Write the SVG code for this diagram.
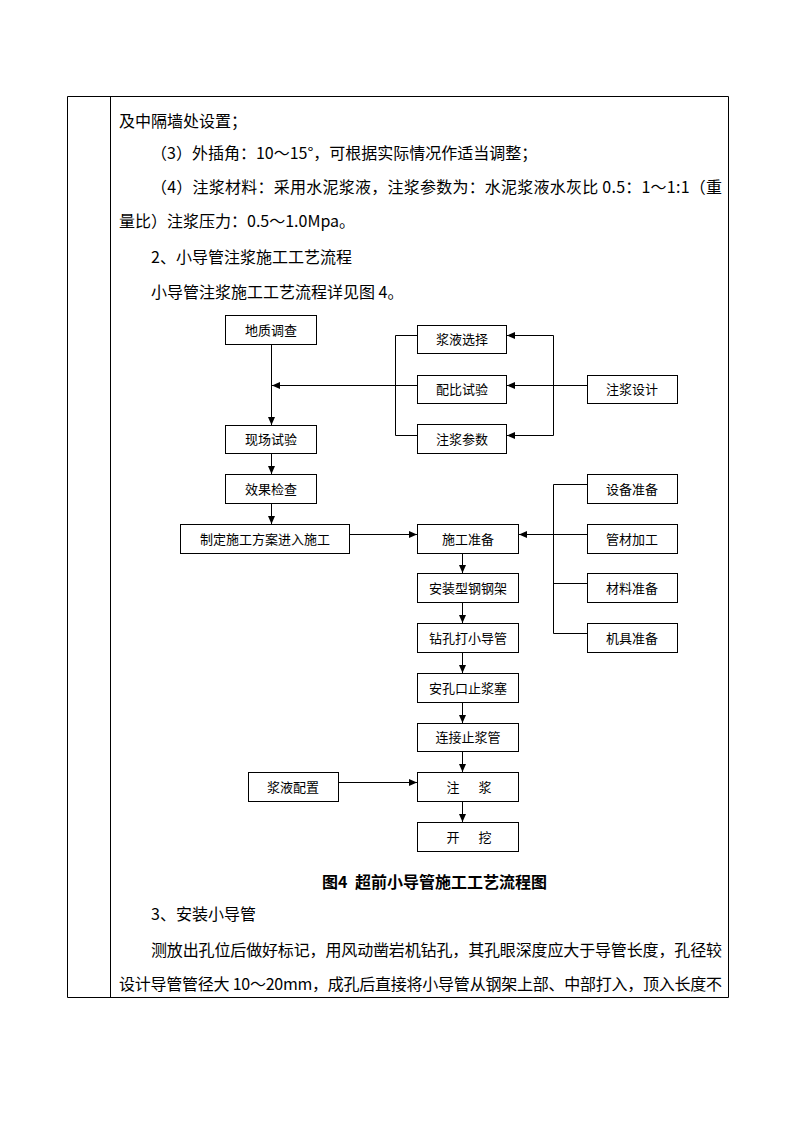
<svg xmlns="http://www.w3.org/2000/svg" width="794" height="1123" viewBox="0 0 794 1123">
<style>
.t{font-family:"Noto Sans CJK SC","Noto Sans",sans-serif;font-size:16px;fill:#000}
.b{font-family:"Noto Sans CJK SC","Noto Sans",sans-serif;font-size:13px;fill:#000;text-anchor:middle}
.cap{font-family:"Noto Sans CJK SC",sans-serif;font-size:16px;font-weight:bold;fill:#000;text-anchor:middle}
rect{fill:#fff;stroke:#000;stroke-width:1}
.ln{fill:none;stroke:#000;stroke-width:1}
.ar{fill:none;stroke:#000;stroke-width:1;marker-end:url(#ah)}
</style>
<defs>
<marker id="ah" viewBox="0 0 8 7" refX="8" refY="3.5" markerWidth="8" markerHeight="7" markerUnits="userSpaceOnUse" orient="auto">
<path d="M0,0 L8,3.5 L0,7 z" fill="#000"/>
</marker>
</defs>
<rect x="0" y="0" width="794" height="1123" style="fill:#fff;stroke:none"/>
<g id="table">
<path class="ln" d="M67.5,96.5 H728.5 V997.5 H67.5 Z M110.5,96.5 V997.5"/>
</g>
<g id="body-text">
<text class="t" x="119" y="127">及中隔墙处设置；</text>
<text class="t" x="151" y="159">（3）外插角：10～15°，可根据实际情况作适当调整；</text>
<text class="t" x="151" y="193" textLength="571" lengthAdjust="spacing">（4）注浆材料：采用水泥浆液，注浆参数为：水泥浆液水灰比 0.5：1～1:1（重</text>
<text class="t" x="119" y="227">量比）注浆压力：0.5～1.0Mpa。</text>
<text class="t" x="151" y="263">2、小导管注浆施工工艺流程</text>
<text class="t" x="151" y="298">小导管注浆施工工艺流程详见图 4。</text>
<text class="t" x="151" y="920">3、安装小导管</text>
<text class="t" x="151" y="956" textLength="571" lengthAdjust="spacing">测放出孔位后做好标记，用风动凿岩机钻孔，其孔眼深度应大于导管长度，孔径较</text>
<text class="t" x="119" y="990" textLength="603" lengthAdjust="spacing">设计导管管径大 10～20mm，成孔后直接将小导管从钢架上部、中部打入，顶入长度不</text>
</g>
<g id="connectors">
<path class="ar" d="M271.5,345 V425"/>
<path class="ar" d="M417,385.5 H272"/>
<path class="ln" d="M395.5,335.5 V435.5 M395.5,335.5 H417 M395.5,435.5 H417"/>
<path class="ln" d="M553.5,335.5 V435.5 M587,385.5 H553.5"/>
<path class="ar" d="M553.5,335.5 H507"/>
<path class="ar" d="M553.5,385.5 H507"/>
<path class="ar" d="M553.5,435.5 H507"/>
<path class="ar" d="M271.5,454 V474"/>
<path class="ar" d="M271.5,504 V524"/>
<path class="ar" d="M350,534.5 H417"/>
<path class="ln" d="M553.5,484.5 V633.5 M553.5,484.5 H587 M553.5,583.5 H587 M553.5,633.5 H587"/>
<path class="ar" d="M587,534.5 H519"/>
<path class="ar" d="M462.5,554 V573"/>
<path class="ar" d="M462.5,603 V623"/>
<path class="ar" d="M462.5,653 V673"/>
<path class="ar" d="M462.5,703 V723"/>
<path class="ar" d="M462.5,752 V772"/>
<path class="ar" d="M462.5,802 V822"/>
<path class="ar" d="M339,782.5 H417"/>
</g>
<g id="n1"><rect x="225.5" y="315.5" width="91" height="29"/><text class="b" x="271" y="335">地质调查</text></g>
<g id="n2"><rect x="225.5" y="425.5" width="91" height="28"/><text class="b" x="271" y="444">现场试验</text></g>
<g id="n3"><rect x="225.5" y="474.5" width="91" height="29"/><text class="b" x="271" y="494">效果检查</text></g>
<g id="n4"><rect x="180.5" y="524.5" width="169" height="29"/><text class="b" x="265" y="544">制定施工方案进入施工</text></g>
<g id="n5"><rect x="417.5" y="325.5" width="89" height="28"/><text class="b" x="462" y="344">浆液选择</text></g>
<g id="n6"><rect x="417.5" y="375.5" width="89" height="28"/><text class="b" x="462" y="394">配比试验</text></g>
<g id="n7"><rect x="417.5" y="424.5" width="89" height="29"/><text class="b" x="462" y="444">注浆参数</text></g>
<g id="n8"><rect x="587.5" y="375.5" width="90" height="28"/><text class="b" x="632" y="394">注浆设计</text></g>
<g id="n9"><rect x="417.5" y="524.5" width="101" height="29"/><text class="b" x="468" y="544">施工准备</text></g>
<g id="n10"><rect x="587.5" y="474.5" width="90" height="29"/><text class="b" x="632" y="494">设备准备</text></g>
<g id="n11"><rect x="587.5" y="524.5" width="90" height="29"/><text class="b" x="632" y="544">管材加工</text></g>
<g id="n12"><rect x="587.5" y="573.5" width="90" height="29"/><text class="b" x="632" y="593">材料准备</text></g>
<g id="n13"><rect x="587.5" y="623.5" width="90" height="29"/><text class="b" x="632" y="643">机具准备</text></g>
<g id="n14"><rect x="417.5" y="573.5" width="101" height="29"/><text class="b" x="468" y="593">安装型钢钢架</text></g>
<g id="n15"><rect x="417.5" y="623.5" width="101" height="29"/><text class="b" x="468" y="643">钻孔打小导管</text></g>
<g id="n16"><rect x="417.5" y="673.5" width="101" height="29"/><text class="b" x="468" y="693">安孔口止浆塞</text></g>
<g id="n17"><rect x="417.5" y="723.5" width="101" height="28"/><text class="b" x="468" y="742">连接止浆管</text></g>
<g id="n18"><rect x="417.5" y="772.5" width="101" height="29"/><text class="b" y="792"><tspan x="453">注</tspan><tspan x="485">浆</tspan></text></g>
<g id="n19"><rect x="417.5" y="822.5" width="101" height="29"/><text class="b" y="842"><tspan x="453">开</tspan><tspan x="485">挖</tspan></text></g>
<g id="n20"><rect x="248.5" y="772.5" width="90" height="29"/><text class="b" x="293" y="792">浆液配置</text></g>
<g id="caption"><text class="cap" y="888"><tspan x="322" style="text-anchor:start">图4</tspan><tspan x="355" style="text-anchor:start">超前小导管施工工艺流程图</tspan></text></g>
</svg>
